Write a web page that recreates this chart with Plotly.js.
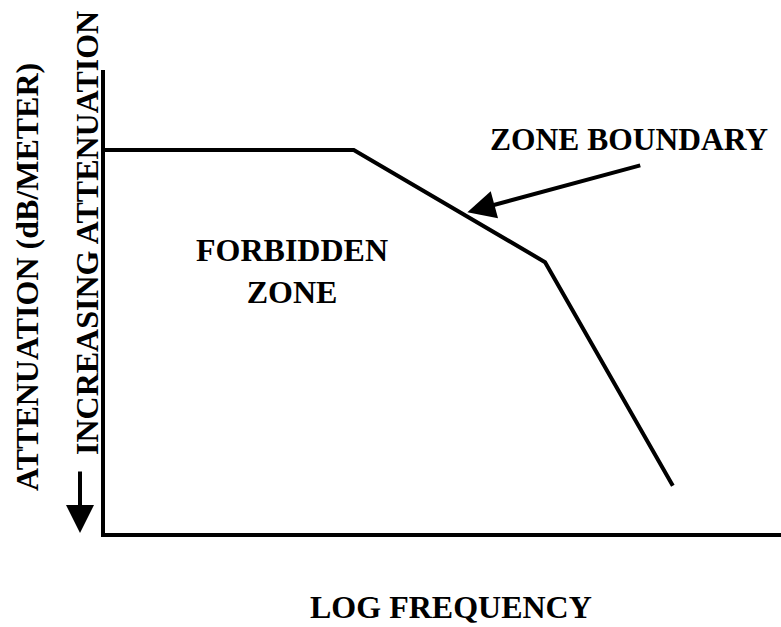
<!DOCTYPE html>
<html>
<head>
<meta charset="utf-8">
<script src="https://cdn.plot.ly/plotly-3.0.1.min.js"></script>
<style>html,body{margin:0;padding:0;background:#fff;}#chart{width:781px;height:627px;}</style>
</head>
<body>
<div id="chart"></div>
<script>
// Zone boundary (arbitrary units: log frequency vs attenuation)
const logFrequency = [0, 3.68, 6.51, 8.40];
const attenuation = [8.27, 8.27, 5.85, 1.02];

// Pointer arrow for "ZONE BOUNDARY" (tail -> head)
const pointerTail = [7.94, 7.95];
const pointerHead = [5.36, 6.93];

const labels = {
  xTitle: 'LOG FREQUENCY',
  yTitle: 'ATTENUATION (dB/METER)',
  yDirection: 'INCREASING ATTENUATION',
  zone: 'FORBIDDEN<br>ZONE',
  boundary: 'ZONE BOUNDARY'
};

const FONT = {family: 'Liberation Serif', size: 32, color: '#000', weight: 'bold'};
const FONT_B = {family: 'Liberation Serif', size: 31.5, color: '#000', weight: 'bold'};

const trace = {
  x: logFrequency, y: attenuation,
  type: 'scatter', mode: 'lines',
  line: {color: '#000', width: 4},
  hoverinfo: 'skip', showlegend: false
};

const L = 105, R = 0, T = 70, B = 94, W = 781, H = 627;
const pw = W - L - R, ph = H - T - B;
const px = v => (v - L) / pw;          // pixel -> paper x
const py = v => (H - B - v) / ph;      // pixel -> paper y

const layout = {
  width: W, height: H,
  margin: {l: L, r: R, t: T, b: B, pad: 0},
  paper_bgcolor: '#fff', plot_bgcolor: '#fff',
  showlegend: false,
  font: FONT,
  xaxis: {range: [0, 10], showline: true, linewidth: 4, linecolor: '#000',
          showgrid: false, zeroline: false, showticklabels: false, ticks: '', fixedrange: true},
  yaxis: {range: [0, 10], showline: true, linewidth: 4, linecolor: '#000',
          showgrid: false, zeroline: false, showticklabels: false, ticks: '', fixedrange: true},
  annotations: [
    {text: labels.xTitle, xref: 'paper', yref: 'paper',
     x: px(451), y: py(607), showarrow: false, font: FONT, xanchor: 'center', yanchor: 'middle'},
    {text: labels.yTitle, xref: 'paper', yref: 'paper',
     x: px(27), y: py(277), showarrow: false, font: FONT, textangle: -90, xanchor: 'center', yanchor: 'middle'},
    {text: labels.yDirection, xref: 'paper', yref: 'paper',
     x: px(87), y: py(233), showarrow: false, font: FONT, textangle: -90, xanchor: 'center', yanchor: 'middle'},
    {text: labels.zone, xref: 'paper', yref: 'paper',
     x: px(292), y: py(271), showarrow: false, font: FONT, xanchor: 'center', yanchor: 'middle'},
    {text: labels.boundary, xref: 'paper', yref: 'paper',
     x: px(629), y: py(139), showarrow: false, font: FONT_B, xanchor: 'center', yanchor: 'middle'},
    {text: '', xref: 'x', yref: 'y', x: pointerHead[0], y: pointerHead[1],
     axref: 'x', ayref: 'y', ax: pointerTail[0], ay: pointerTail[1],
     showarrow: true, arrowhead: 2, arrowsize: 1.4, arrowwidth: 4, arrowcolor: '#000', standoff: 0},
    {text: '', xref: 'paper', yref: 'paper', x: px(80), y: py(533),
     ax: 0, ay: -63, showarrow: true, arrowhead: 2, arrowsize: 1.4, arrowwidth: 4, arrowcolor: '#000', standoff: 0}
  ]
};

Plotly.newPlot('chart', [trace], layout, {displayModeBar: false, staticPlot: true});
</script>
</body>
</html>
